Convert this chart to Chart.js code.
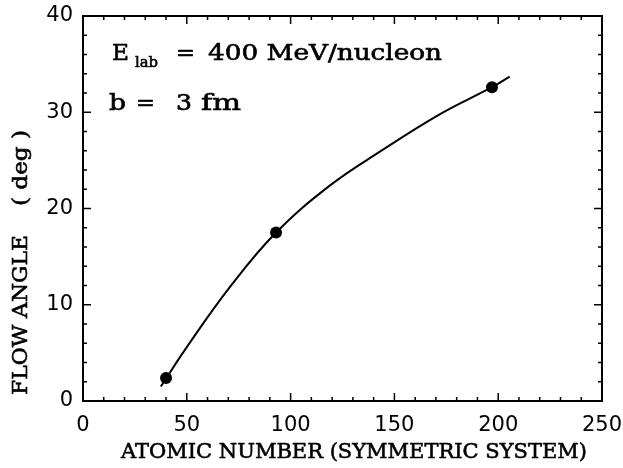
<!DOCTYPE html>
<html>
<head>
<meta charset="utf-8">
<script src="https://cdn.jsdelivr.net/npm/chart.js@4/dist/chart.umd.min.js"></script>
<style>
  html, body { margin: 0; padding: 0; background: #fff; }
</style>
</head>
<body>
<canvas id="chart-1" width="623" height="468"></canvas>
<script>
// flow angle vs mass number, E_lab = 400 MeV/nucleon, b = 3 fm
const atomicNumber = [40, 93, 197];
const flowAngle = [2.4, 17.5, 32.6];

// points along the drawn curve
const curveA = [37.5, 50, 71, 93, 119, 143, 172, 197, 205.5];
const curveAngle = [1.5, 5.6, 11.9, 17.5, 22.4, 25.9, 29.8, 32.6, 33.7];

const xRange = [0, 250];
const yRange = [0, 40];

const serif = '"DejaVu Serif", "Liberation Serif", serif';
const sans = '"DejaVu Sans", "Liberation Sans", sans-serif';

// draw text left-aligned and stretched sideways to the given width;
// a thin stroke gives the heavier plotter look
function wideText(ctx, text, x, y, width) {
  const w0 = ctx.measureText(text).width;
  ctx.save();
  ctx.translate(x, y);
  ctx.scale(width / w0, 1);
  ctx.fillText(text, 0, 0);
  ctx.strokeText(text, 0, 0);
  ctx.restore();
}

// box with inward ticks on all four sides, plus labels
const frame = {
  id: 'frame',
  afterDraw(chart) {
    const { ctx, chartArea: a, scales: { x, y } } = chart;
    ctx.save();
    ctx.strokeStyle = '#000';
    ctx.lineWidth = 2;
    ctx.strokeRect(a.left, a.top, a.right - a.left, a.bottom - a.top);

    ctx.lineWidth = 1.5;
    ctx.beginPath();
    for (let v = xRange[0]; v <= xRange[1]; v += 10) {
      const px = x.getPixelForValue(v);
      const len = v % 50 === 0 ? 8 : 4;
      ctx.moveTo(px, a.bottom); ctx.lineTo(px, a.bottom - len);
      ctx.moveTo(px, a.top); ctx.lineTo(px, a.top + len);
    }
    for (let v = yRange[0]; v <= yRange[1]; v += 2) {
      const py = y.getPixelForValue(v);
      const len = v % 10 === 0 ? 8 : 4;
      ctx.moveTo(a.left, py); ctx.lineTo(a.left + len, py);
      ctx.moveTo(a.right, py); ctx.lineTo(a.right - len, py);
    }
    ctx.stroke();

    ctx.fillStyle = '#000';
    ctx.lineWidth = 0.6;
    ctx.textAlign = 'left';
    ctx.textBaseline = 'alphabetic';

    // E_lab = 400 MeV/nucleon
    ctx.font = '22px ' + serif;
    wideText(ctx, 'E', 112, 60, 17);
    ctx.font = '15px ' + serif;
    wideText(ctx, 'lab', 135, 67, 23);
    ctx.font = '22px ' + serif;
    wideText(ctx, '=', 176, 60, 19);
    wideText(ctx, '400 MeV/nucleon', 208, 60, 234);

    // b = 3 fm
    wideText(ctx, 'b', 109, 110, 17);
    wideText(ctx, '=', 136, 110, 19);
    wideText(ctx, '3', 176, 110, 16);
    wideText(ctx, 'fm', 201, 110, 40);

    // axis titles
    ctx.font = '21px ' + serif;
    ctx.textBaseline = 'middle';
    wideText(ctx, 'ATOMIC NUMBER (SYMMETRIC SYSTEM)', 121, 453, 466);

    ctx.translate(22, 395);
    ctx.rotate(-Math.PI / 2);
    wideText(ctx, 'FLOW ANGLE', 0, 0, 160);
    wideText(ctx, '( deg )', 189, 0, 76);
    ctx.restore();
  }
};

// fixed scale sizes so the plot box lands where it should
function fixBox(size) {
  return (scale) => {
    if (scale.isHorizontal()) scale.height = size; else scale.width = size;
    scale.paddingTop = 0;
    scale.paddingBottom = 0;
    scale.paddingLeft = 0;
    scale.paddingRight = 0;
  };
}

new Chart(document.getElementById('chart-1'), {
  type: 'scatter',
  data: {
    datasets: [
      {
        type: 'line',
        data: curveA.map((a, i) => ({ x: a, y: curveAngle[i] })),
        borderColor: '#000',
        borderWidth: 2,
        pointRadius: 0,
        tension: 0.4,
        fill: false
      },
      {
        data: atomicNumber.map((a, i) => ({ x: a, y: flowAngle[i] })),
        backgroundColor: '#000',
        borderWidth: 0,
        pointRadius: 6
      }
    ]
  },
  options: {
    responsive: false,
    animation: false,
    layout: { padding: { top: 16, right: 21, left: 0, bottom: 0 } },
    plugins: { legend: { display: false }, tooltip: { enabled: false } },
    scales: {
      x: {
        type: 'linear',
        min: xRange[0],
        max: xRange[1],
        grid: { display: false, drawTicks: false },
        border: { display: false },
        ticks: { stepSize: 50, color: '#000', padding: 12, font: { family: sans, size: 21 } },
        afterFit: fixBox(67)
      },
      y: {
        min: yRange[0],
        max: yRange[1],
        grid: { display: false, drawTicks: false },
        border: { display: false },
        ticks: { stepSize: 10, color: '#000', padding: 10, font: { family: sans, size: 21 } },
        afterFit: fixBox(83)
      }
    }
  },
  plugins: [frame]
});
</script>
</body>
</html>
